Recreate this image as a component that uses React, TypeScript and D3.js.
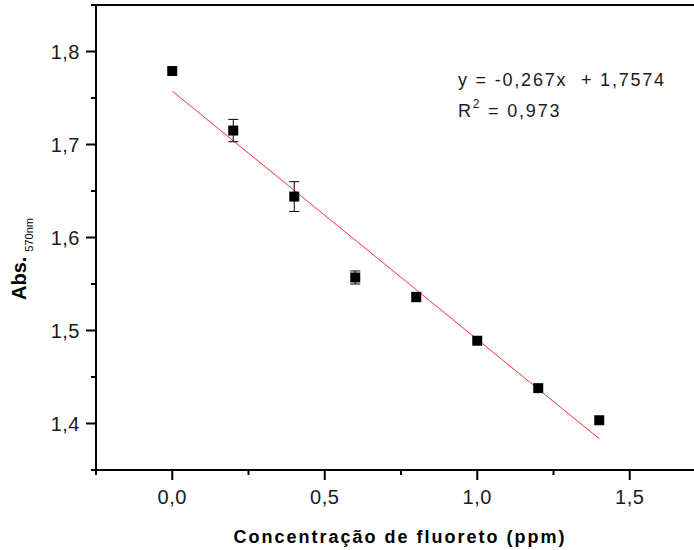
import React from "react";
import * as d3 from "d3";

const concentrations = [0, 0.2, 0.4, 0.6, 0.8, 1.0, 1.2, 1.4];
const absorbances = [1.779, 1.715, 1.644, 1.557, 1.536, 1.489, 1.438, 1.4035];
const errors = [0, 0.012, 0.016, 0.007, 0.005, 0, 0, 0];
const fitSlope = -0.267;
const fitIntercept = 1.7574;
const xTicks = [0, 0.5, 1.0, 1.5];
const xMinorTicks = [-0.25, 0.25, 0.75, 1.25, 1.75];
const yTicks = [1.4, 1.5, 1.6, 1.7, 1.8];
const yMinorTicks = [1.35, 1.45, 1.55, 1.65, 1.75, 1.85];

const W = 694, H = 550;
const left = 96, right = 706, top = 5, bottom = 470;

export default function App() {
  const x = d3.scaleLinear().domain([-0.25, 1.75]).range([left, right]);
  const y = d3.scaleLinear().domain([1.35, 1.85]).range([bottom, top]);
  const fmt = (v: number) => d3.format(".1f")(v).replace(".", ",");
  const font = "'Liberation Sans', Arial, sans-serif";
  const fitX = [0, 1.4];
  const line = d3.line<number>().x(d => x(d)).y(d => y(fitIntercept + fitSlope * d));
  const ms = 10;
  return (
    <svg width={W} height={H} style={{ position: "absolute", left: 0, top: 0 }} fontFamily={font}>
      <rect width={W} height={H} fill="#fff" />
      {/* frame */}
      <rect x={left} y={top} width={right - left} height={bottom - top} fill="none" stroke="#000" strokeWidth={2} />
      {/* y ticks */}
      {yTicks.map(t => (
        <g key={"y" + t}>
          <line x1={left - 10} x2={left} y1={y(t)} y2={y(t)} stroke="#000" strokeWidth={2} />
          <text x={80} y={y(t) + 7} textAnchor="end" fontSize={20} letterSpacing={0.5} fill="#1a1a1a">{fmt(t)}</text>
        </g>
      ))}
      {yMinorTicks.map(t => (
        <line key={"ym" + t} x1={left - 5} x2={left} y1={y(t)} y2={y(t)} stroke="#000" strokeWidth={2} />
      ))}
      {/* x ticks */}
      {xTicks.map(t => (
        <g key={"x" + t}>
          <line x1={x(t)} x2={x(t)} y1={bottom} y2={bottom + 10} stroke="#000" strokeWidth={2} />
          <text x={x(t)} y={504} textAnchor="middle" fontSize={20} letterSpacing={0.5} fill="#1a1a1a">{fmt(t)}</text>
        </g>
      ))}
      {xMinorTicks.map(t => (
        <line key={"xm" + t} x1={x(t)} x2={x(t)} y1={bottom} y2={bottom + 5} stroke="#000" strokeWidth={2} />
      ))}
      {/* fit line */}
      <path d={line(fitX) || ""} fill="none" stroke="#ff3030" strokeWidth={1} />
      {/* error bars */}
      {concentrations.map((c, i) => errors[i] > 0 ? (
        <g key={"e" + i} stroke="#000" strokeWidth={1}>
          <line x1={x(c)} x2={x(c)} y1={y(absorbances[i] - errors[i])} y2={y(absorbances[i] + errors[i])} />
          <line x1={x(c) - 5} x2={x(c) + 5} y1={y(absorbances[i] - errors[i])} y2={y(absorbances[i] - errors[i])} />
          <line x1={x(c) - 5} x2={x(c) + 5} y1={y(absorbances[i] + errors[i])} y2={y(absorbances[i] + errors[i])} />
        </g>
      ) : null)}
      {/* markers */}
      {concentrations.map((c, i) => (
        <rect key={"m" + i} x={x(c) - ms / 2} y={y(absorbances[i]) - ms / 2} width={ms} height={ms} fill="#000" />
      ))}
      {/* equation */}
      <text x={458} y={86} fontSize={18} letterSpacing={1.8} fill="#1a1a1a" style={{ whiteSpace: "pre" }}>{"y = -0,267x  + 1,7574"}</text>
      <text x={458} y={117} fontSize={18} letterSpacing={1.8} fill="#1a1a1a">
        R<tspan dy={-9} fontSize={12}>2</tspan><tspan dy={9}> = 0,973</tspan>
      </text>
      {/* axis titles */}
      <text x={400} y={543} textAnchor="middle" fontSize={18} fontWeight="bold" letterSpacing={2} fill="#000">Concentração de fluoreto (ppm)</text>
      <text transform="translate(26,300) rotate(-90)" textAnchor="start" fontSize={20} fontWeight="bold" fill="#000">
        Abs.<tspan fontSize={11} fontWeight="normal" dx={5} dy={7}>570nm</tspan>
      </text>
    </svg>
  );
}
